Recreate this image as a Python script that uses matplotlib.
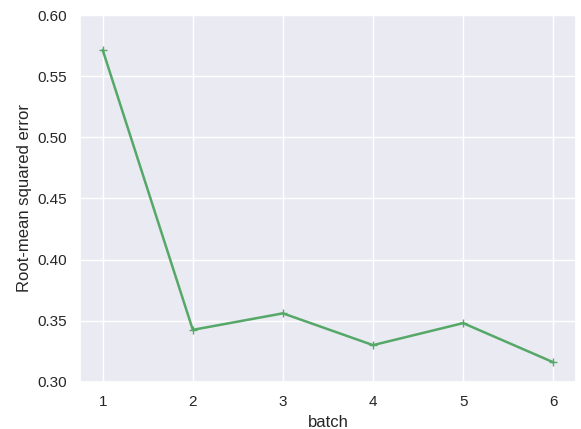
import matplotlib
matplotlib.use("Agg")
import matplotlib.pyplot as plt
import seaborn as sns

batch = [1, 2, 3, 4, 5, 6]
rmse = [0.5714, 0.3425, 0.356, 0.330, 0.348, 0.316]

sns.set_theme(style="darkgrid")
plt.rcParams['font.family'] = ['Liberation Sans', 'DejaVu Sans']
fig, ax = plt.subplots(figsize=(5.81, 4.29), dpi=100)
fig.subplots_adjust(left=0.138, right=0.991, top=0.965, bottom=0.110)
ax.plot(batch, rmse, color="g", marker="+", linewidth=1.8, markersize=6)
ax.set_ylim(0.30, 0.60)
ax.set_xlabel("batch")
ax.set_ylabel("Root-mean squared error")
fig.savefig("out.png", dpi=100)
